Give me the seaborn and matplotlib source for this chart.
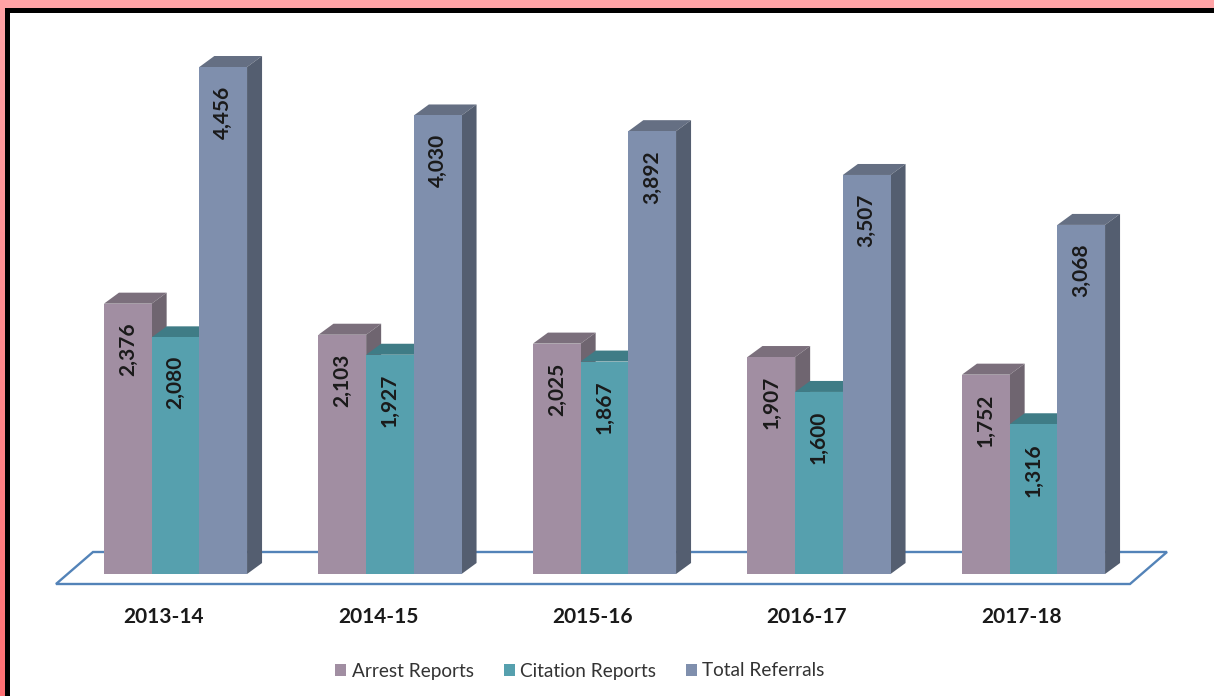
import numpy as np
import pandas as pd
import matplotlib
matplotlib.use("Agg")
import matplotlib.pyplot as plt
from matplotlib.colors import LinearSegmentedColormap
from matplotlib.patches import Polygon, Rectangle
from matplotlib.transforms import ScaledTranslation
import seaborn as sns

W, H = 1214, 696
DPI = 100

YEARS = ["2013-14", "2014-15", "2015-16", "2016-17", "2017-18"]
ARREST = [2376, 2103, 2025, 1907, 1752]
CITATION = [2080, 1927, 1867, 1600, 1316]
TOTAL = [4456, 4030, 3892, 3507, 3068]

# front face, top, side
COLORS = {
    "Arrest Reports": ("#a18ea2", "#7b6f7c", "#6f6570"),
    "Citation Reports": ("#56a0ae", "#3f7c86", "#3a727b"),
    "Total Referrals": ("#7f8fad", "#656f83", "#545e70"),
}
PINK = "#ffa3a6"
PINK_LOW = "#ff7074"
FLOOR = "#5383b8"
TEXT = "#1a1a1a"
FONT = "Lato"

# bar depth in pixels
DX, DY = 15, 11

BASE_PX = 574
PX_PER_UNIT = 507 / 4456
FIRST_CENTER_PX = 175.5
GROUP_PX = 214.5
BAR_PX = 47.7

df = pd.DataFrame({
    "year": YEARS * 3,
    "series": ["Arrest Reports"] * 5 + ["Citation Reports"] * 5 + ["Total Referrals"] * 5,
    "value": ARREST + CITATION + TOTAL,
})

plt.rcParams["font.family"] = [FONT, "DejaVu Sans"]
fig = plt.figure(figsize=(W / DPI, H / DPI), dpi=DPI, facecolor=PINK)

# left pink strip gets darker towards the bottom
strip = fig.add_axes([0, 0, 5 / W, 1], zorder=-5)
strip.imshow(np.linspace(0, 1, 256).reshape(-1, 1), aspect="auto",
             cmap=LinearSegmentedColormap.from_list("strip", [PINK, PINK_LOW]))
strip.axis("off")

# black frame on top and left only, white runs out to the right and bottom edges
fig.patches.append(Rectangle((5 / W, 0), 1 - 5 / W, 1 - 8 / H, transform=fig.transFigure,
                             facecolor="black", edgecolor="none", zorder=-3))
fig.patches.append(Rectangle((10 / W, 0), 1 - 10 / W, 1 - 13 / H, transform=fig.transFigure,
                             facecolor="white", edgecolor="none", zorder=-2))

ax = fig.add_axes([0, (H - BASE_PX) / H, 1, BASE_PX / H])
ax.patch.set_visible(False)

sns.barplot(data=df, x="year", y="value", hue="series", order=YEARS,
            hue_order=list(COLORS), palette={k: v[0] for k, v in COLORS.items()},
            width=3 * BAR_PX / GROUP_PX, gap=0, saturation=1, dodge=True,
            legend=False, errorbar=None, ax=ax, zorder=3)

ax.set_xlim(-FIRST_CENTER_PX / GROUP_PX, (W - FIRST_CENTER_PX) / GROUP_PX)
ax.set_ylim(0, BASE_PX / PX_PER_UNIT)
ax.set_xlabel("")
ax.set_ylabel("")
ax.set_yticks([])
for s in ax.spines.values():
    s.set_visible(False)
ax.tick_params(axis="x", length=0, pad=23.5, labelsize=15, labelcolor=TEXT)
# year labels sit a little left of the group centres
label_shift = ScaledTranslation(-12 / DPI, 0, fig.dpi_scale_trans)
for lab in ax.get_xticklabels():
    lab.set_fontweight("bold")
    lab.set_transform(lab.get_transform() + label_shift)


def px(x, y):
    # figure pixels measured from the top left of the picture
    return (x, H - y)


# floor plate, behind the bars
floor = Polygon([px(56, 584), px(1130, 584), px(1167, 552), px(93, 552)], closed=True,
                transform=None, facecolor="white", edgecolor=FLOOR, linewidth=1.7,
                zorder=1, clip_on=False)
ax.add_patch(floor)

names = list(COLORS)
for i, c in enumerate(ax.containers):
    _, top, side = COLORS[names[i]]
    for bar in c:
        x0, x1 = bar.get_x(), bar.get_x() + bar.get_width()
        h = bar.get_height()
        order = 3 + i * 0.1
        bar.set_zorder(order + 0.02)
        # top and right faces are the front edge pushed back by the depth
        pa = ax.transData.transform([(x0, h), (x1, h), (x1, 0)])
        t = pa + np.array([DX, DY])
        ax.add_patch(Polygon([pa[0], pa[1], t[1], t[0]], closed=True, transform=None,
                             facecolor=top, edgecolor="none", zorder=order, clip_on=False))
        ax.add_patch(Polygon([pa[1], t[1], t[2], pa[2]], closed=True, transform=None,
                             facecolor=side, edgecolor="none", zorder=order, clip_on=False))
        ax.text(x0 + bar.get_width() * 0.5, h - 165, f"{int(h):,}", rotation=90,
                ha="center", va="top", fontsize=15, fontweight="bold", color=TEXT, zorder=6)

handles = [Rectangle((0, 0), 1, 1, facecolor=COLORS[n][0]) for n in names]
fig.legend(handles, names, loc="center", bbox_to_anchor=(580 / W, 1 - 671 / H), ncol=3,
           frameon=False, fontsize=13.7, labelcolor="#333333", handlelength=0.58,
           handleheight=0.6, handletextpad=0.28, columnspacing=1.58)

fig.savefig("out.png", dpi=DPI, facecolor=PINK)
